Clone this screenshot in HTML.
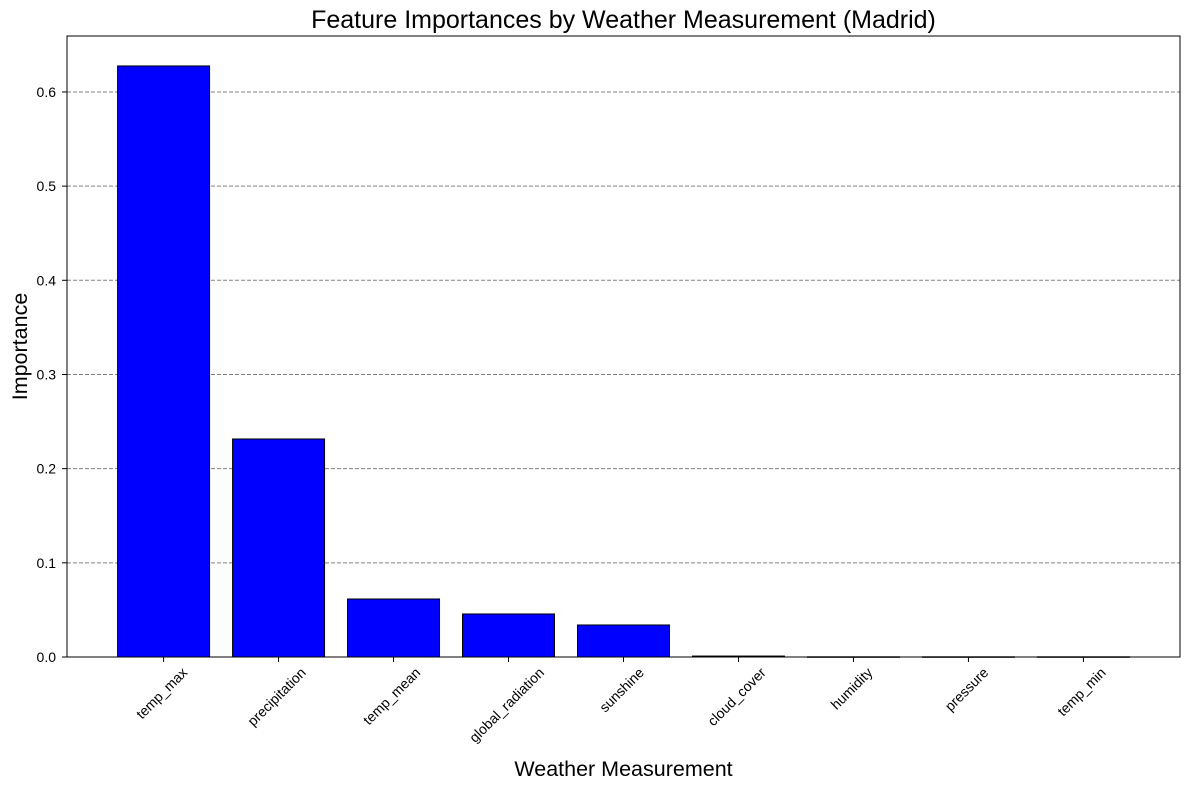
<!DOCTYPE html>
<html><head><meta charset="utf-8"><style>body{margin:0;background:#fff}svg{display:block;font-family:"Liberation Sans",sans-serif}</style></head>
<body>
<svg id="c" width="1189" height="790"></svg>
<script>
const categories=["temp_max","precipitation","temp_mean","global_radiation","sunshine","cloud_cover","humidity","pressure","temp_min"];
const values=[0.6276,0.2315,0.0616,0.0457,0.034,0.001,0.0002,0.0002,0.0002];
const yTicks=[0.0,0.1,0.2,0.3,0.4,0.5,0.6];
const yTickLabels=["0.0","0.1","0.2","0.3","0.4","0.5","0.6"];
const L=67,R=1180,T=36,B=657,yMax=0.6594,xMin=-0.84,xMax=8.84;
const sx=v=>L+(v-xMin)/(xMax-xMin)*(R-L);
const sy=v=>B-v/yMax*(B-T);
const svg=document.getElementById('c');const NS='http://www.w3.org/2000/svg';
function mk(t,a,txt){const e=document.createElementNS(NS,t);for(const k in a)e.setAttribute(k,a[k]);if(txt!==undefined)e.textContent=txt;svg.appendChild(e);return e;}
yTicks.forEach((v,i)=>{
 const y=sy(v);
 if(v>0){const g=mk('line',{x1:L,x2:R,y1:y,y2:y,stroke:'#808080','stroke-dasharray':'4,2','stroke-width':1});
 
 }
 mk('line',{x1:L-5,x2:L,y1:y,y2:y,stroke:'#000'});
 const t=mk('text',{x:L-11,y:y+5,'text-anchor':'end','font-size':14},yTickLabels[i]);
 
 
});
const bw=(sx(0.8)-sx(0));
categories.forEach((c,i)=>{
 const x=sx(i);
 const r=mk('rect',{x:x-bw/2,y:sy(values[i]),width:bw,height:Math.max(sy(0)-sy(values[i]),0.5),fill:'#0000ff',stroke:'#000','stroke-width':1});
 
 
 mk('line',{x1:x,x2:x,y1:B,y2:B+5,stroke:'#000'});
 const t=mk('text',{x:0,y:5,'text-anchor':'middle','font-size':14},c);
 
 
 const w=t.getComputedTextLength();
 const h=(w+14)*0.7071/2;
 t.setAttribute('transform',`translate(${x-2},${B+8+h}) rotate(-45)`);
});
const f=mk('rect',{x:L,y:T,width:R-L,height:B-T,fill:'none',stroke:'#000','stroke-width':1});


const ti=mk('text',{x:(L+R)/2,y:28,'text-anchor':'middle','font-size':25},'Feature Importances by Weather Measurement (Madrid)');


const xt=mk('text',{x:(L+R)/2,y:776,'text-anchor':'middle','font-size':21.5},'Weather Measurement');


const yt=mk('text',{x:0,y:0,'text-anchor':'middle','font-size':21.5,transform:`translate(27,${(T+B)/2}) rotate(-90)`},'Importance');


</script>
</body></html>
